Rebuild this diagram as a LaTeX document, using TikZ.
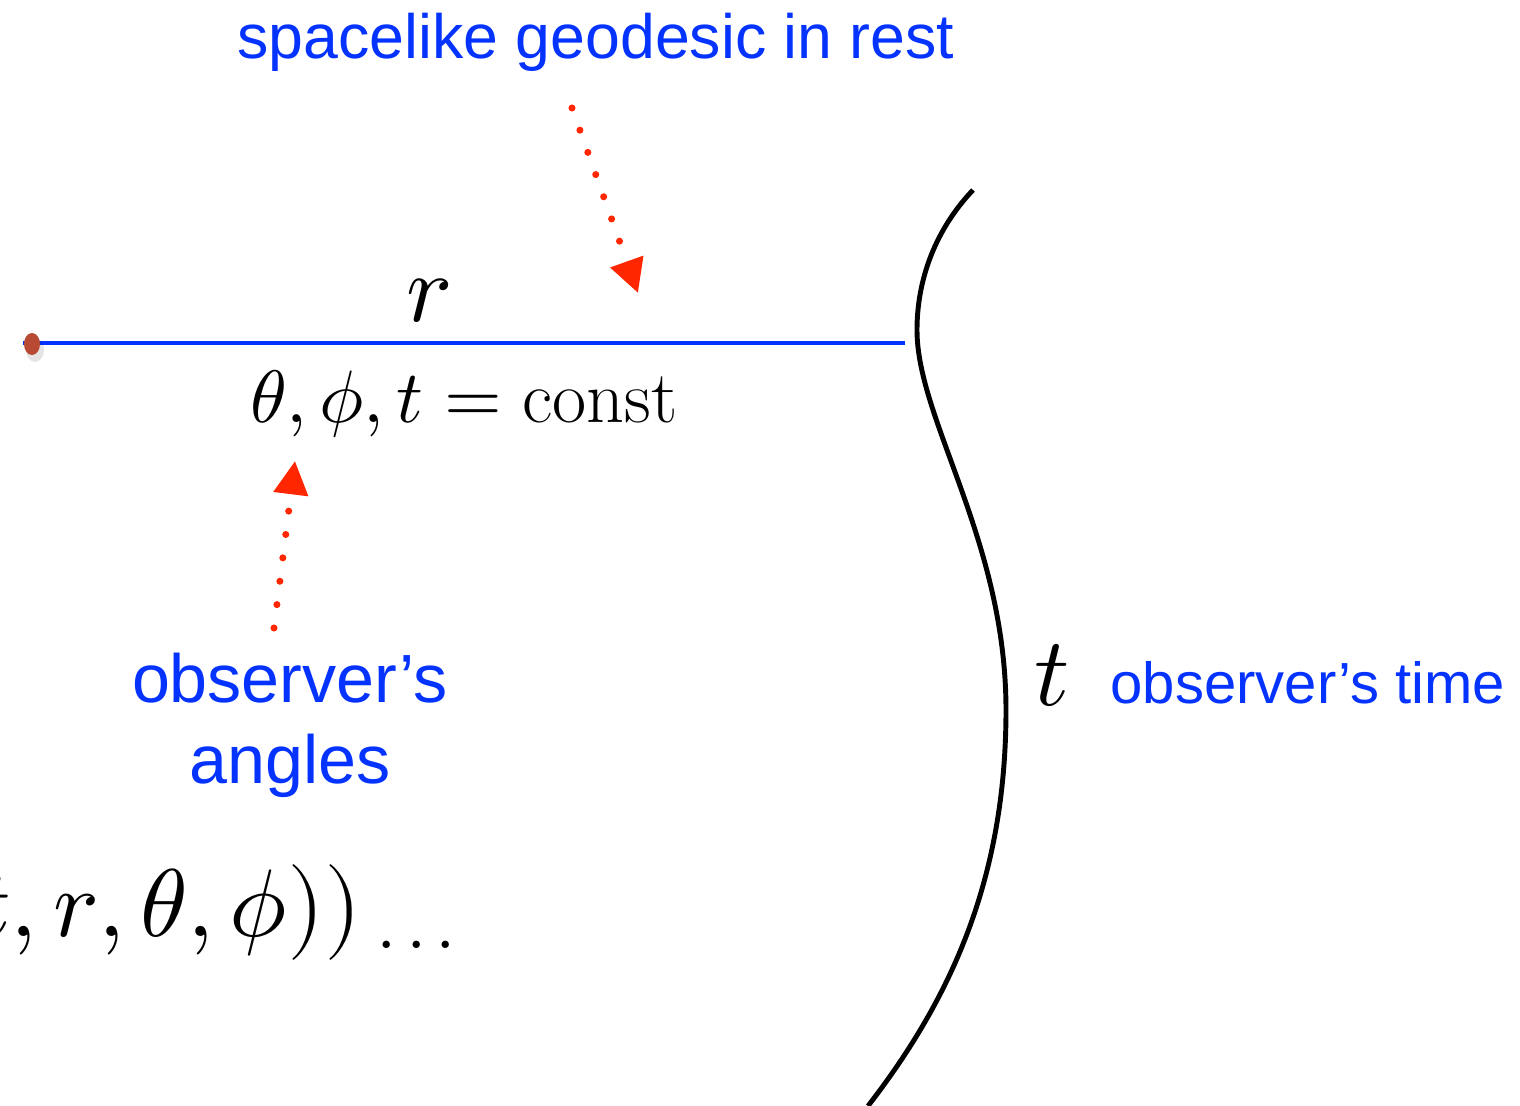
\documentclass[tikz,border=0pt]{standalone}
\usepackage{fontspec}
\usepackage{unicode-math}
\setmathfont{Latin Modern Math}
\newfontfamily\lblfont{Liberation Sans}
\usepackage{tikz}
\usetikzlibrary{arrows.meta,shapes.geometric}
\definecolor{geoblue}{RGB}{4,51,255}
\definecolor{ptrred}{RGB}{255,38,0}
\definecolor{dotred}{RGB}{184,74,52}

\begin{document}
\begin{tikzpicture}[x=0.01cm,y=-0.01cm,
    every node/.style={inner sep=0pt},
    lbl/.style={text=geoblue,font=\lblfont},
    ptr/.style={ptrred,line width=2pt,line cap=round,dash pattern=on 0pt off 6.7pt,
      -{Triangle[length=9.5pt,width=9.5pt]}}]
  \useasboundingbox (0,0) rectangle (1520,1106);
  \clip (0,0) rectangle (1520,1106);

  % the geodesic
  \coordinate (geoL) at (23,343);
  \coordinate (geoR) at (905,343);
  \draw[geoblue,line width=1.4pt] (geoL) -- (geoR);
  \fill[black,opacity=0.10] (35,350) ellipse [x radius=0.09cm,y radius=0.12cm];
  \node (obs) [ellipse,fill=dotred,minimum width=0.16cm,minimum height=0.22cm] at (32,344) {};

  % observer's worldline
  \draw[line width=1.4pt] (973,190) .. controls (935,230) and (917,280) .. (917,330)
    .. controls (917,420) and (1006,540) .. (1006,710)
    .. controls (1006,880) and (950,1000) .. (868,1106);

  % labels
  \node (rlab) [anchor=base,font=\fontsize{27.5}{32}\selectfont] at (429,321) {$r$};
  \node (const) [anchor=base,font=\fontsize{21.1}{25}\selectfont] at (464,422) {$\theta,\phi,t=\mathrm{const}$};
  \node (tlab) [anchor=base,font=\fontsize{27.8}{32}\selectfont] at (1052,705) {$t$};
  \node (form) [anchor=base east,font=\fontsize{27.3}{32}\selectfont] at (363,936) {$t,r,\theta,\phi))$};
  \node (dots) [anchor=base west,font=\fontsize{25.5}{30}\selectfont] at (375,948) {.\kern0.08em.\kern0.08em.};

  \node (geo) [lbl,anchor=base,font=\lblfont\fontsize{17.8}{21}\selectfont] at (596,58) {spacelike geodesic in rest};
  \node (ang) [lbl,anchor=base,align=center,font=\lblfont\fontsize{19.4}{22.8}\selectfont] at (290,783) {observer’s\\angles};
  \node (otime) [lbl,anchor=base west,font=\lblfont\fontsize{16.5}{20}\selectfont] at (1110,703) {observer’s time};

  % pointers
  \coordinate (geoTip) at (638,293);
  \coordinate (geoTail) at (572,108);
  \coordinate (angTip) at (295,461);
  \coordinate (angTail) at (274,628);
  \draw[ptr] (geoTail) -- (geoTip);
  \draw[ptr] (angTail) -- (angTip);
\end{tikzpicture}
\end{document}
